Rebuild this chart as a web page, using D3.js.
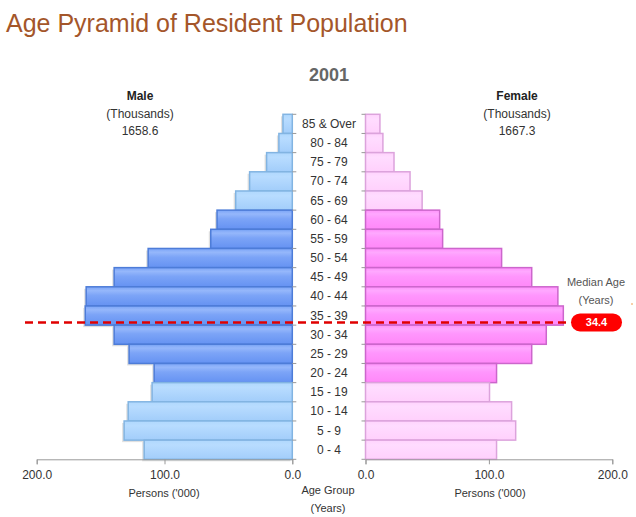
<!DOCTYPE html>
<html><head><meta charset="utf-8">
<script src="https://cdn.jsdelivr.net/npm/d3@7"></script>
<style>body{margin:0;background:#fff;font-family:"Liberation Sans",Arial,sans-serif;}</style>
</head><body><svg id="c" width="636" height="517"></svg>
<script>
const ageGroups = ["85 & Over","80 - 84","75 - 79","70 - 74","65 - 69","60 - 64","55 - 59","50 - 54","45 - 49","40 - 44","35 - 39","30 - 34","25 - 29","20 - 24","15 - 19","10 - 14","5 - 9","0 - 4"];
const maleValues   = [7.3,10.5,20.1,33.4,44.3,58.9,63.8,112.8,139.4,161.3,162.0,139.4,127.7,108.1,109.7,128.4,131.6,115.9];
const femaleValues = [11.7,14.1,23.1,36.1,45.9,60.1,62.5,110.3,134.7,155.9,160.3,146.5,134.7,106.2,100.5,118.4,121.7,106.2];
const workingAge = ["60 - 64","55 - 59","50 - 54","45 - 49","40 - 44","35 - 39","30 - 34","25 - 29","20 - 24"];
const xTicks = [200, 100, 0];
const year = "2001";
const maleTotal = "1658.6", femaleTotal = "1667.3";
const medianAge = 34.4;

const svg = d3.select("#c");
const plotTop = 114.3, plotBottom = 459.3;
const y = d3.scaleBand().domain(ageGroups).range([plotTop, plotBottom]).padding(0);
const xm = d3.scaleLinear().domain([0, 200]).range([292.3, 36.7]);
const xf = d3.scaleLinear().domain([0, 200]).range([365.5, 612.3]);
const yAge = d3.scaleLinear().domain([0, 90]).range([plotBottom - 5, plotTop - 5]);

const defs = svg.append("defs");
function grad(id, stops){
  const g = defs.append("linearGradient").attr("id", id).attr("x1",0).attr("y1",0).attr("x2",0).attr("y2",1);
  stops.forEach(s => g.append("stop").attr("offset", s[0]).attr("stop-color", s[1]));
}
grad("mDark", [[0,"#7ba4f7"],[0.2,"#95b7fb"],[0.45,"#7ca4f7"],[1,"#6592f2"]]);
grad("mLight", [[0,"#b0d8fd"],[0.25,"#b8dcff"],[1,"#a2cdfa"]]);
grad("fDark", [[0,"#ff90fb"],[0.2,"#ffa8ff"],[0.45,"#ff96fd"],[1,"#ff88f8"]]);
grad("fLight", [[0,"#ffd3fd"],[0.25,"#ffdcff"],[1,"#ffd0fc"]]);

// Title
svg.append("text").attr("x", 6).attr("y", 32).attr("font-size", 25).attr("fill", "#a4562a").text("Age Pyramid of Resident Population");
svg.append("text").attr("x", 329).attr("y", 81).attr("text-anchor","middle").attr("font-size", 18).attr("font-weight","bold").attr("fill","#666").text(year);

function header(x, name, total){
  const g = svg.append("g").attr("text-anchor","middle").attr("fill","#222").attr("font-size",12);
  g.append("text").attr("x",x).attr("y",100).attr("font-weight","bold").text(name);
  g.append("text").attr("x",x).attr("y",118).attr("fill","#333").text("(Thousands)");
  g.append("text").attr("x",x).attr("y",135).attr("fill","#333").text(total);
}
header(140, "Male", maleTotal);
header(517, "Female", femaleTotal);

const bh = y.bandwidth();
// male shadows
svg.append("g").selectAll("rect").data(ageGroups).join("rect")
  .attr("x", (d,i) => xm(maleValues[i]) - 2).attr("y", d => y(d) + 2)
  .attr("width", (d,i) => xm(0) - xm(maleValues[i])).attr("height", bh)
  .attr("fill", "#999").attr("opacity", 0.3);
// male bars
svg.append("g").selectAll("rect").data(ageGroups).join("rect")
  .attr("x", (d,i) => xm(maleValues[i])).attr("y", d => y(d))
  .attr("width", (d,i) => xm(0) - xm(maleValues[i])).attr("height", bh)
  .attr("fill", d => workingAge.includes(d) ? "url(#mDark)" : "url(#mLight)")
  .attr("stroke", d => workingAge.includes(d) ? "#4d7cd8" : "#82b4e2").attr("stroke-width", 1.5);
// female bars
svg.append("g").selectAll("rect").data(ageGroups).join("rect")
  .attr("x", xf(0)).attr("y", d => y(d))
  .attr("width", (d,i) => xf(femaleValues[i]) - xf(0)).attr("height", bh)
  .attr("fill", d => workingAge.includes(d) ? "url(#fDark)" : "url(#fLight)")
  .attr("stroke", d => workingAge.includes(d) ? "#cc66cc" : "#dca3dc").attr("stroke-width", 1.5);

// vertical axes with row ticks
const axCol = "#999";
const bounds = ageGroups.map(d => y(d)).concat([plotBottom]);
svg.append("g").selectAll("line").data(bounds).join("line")
  .attr("x1", xm(0)).attr("x2", xm(0) + 4).attr("y1", d => d).attr("y2", d => d).attr("stroke", axCol);
svg.append("g").selectAll("line").data(bounds).join("line")
  .attr("x1", xf(0) - 4).attr("x2", xf(0)).attr("y1", d => d).attr("y2", d => d).attr("stroke", axCol);

// age labels
svg.append("g").selectAll("text").data(ageGroups).join("text")
  .attr("x", 329).attr("y", d => y(d) + bh/2 + 4).attr("text-anchor","middle")
  .attr("font-size", 12).attr("fill","#333").text(d => d);

// bottom axes
function bottomAxis(scale){
  const g = svg.append("g").attr("transform", `translate(0,${plotBottom})`)
    .call(d3.axisBottom(scale).tickValues(xTicks).tickFormat(d3.format(".1f")).tickSizeOuter(0).tickSize(5).tickPadding(6));
  g.select(".domain").attr("stroke", axCol);
  g.selectAll(".tick line").attr("stroke", axCol);
  g.selectAll(".tick text").attr("font-size", 12).attr("fill","#333").attr("font-family","Liberation Sans, Arial, sans-serif");
  return g;
}
bottomAxis(xm);
bottomAxis(xf);

const lab = svg.append("g").attr("text-anchor","middle").attr("font-size",11).attr("fill","#333");
lab.append("text").attr("x",164).attr("y",497).text("Persons ('000)");
lab.append("text").attr("x",490).attr("y",497).text("Persons ('000)");
lab.append("text").attr("x",328).attr("y",494).text("Age Group");
lab.append("text").attr("x",328).attr("y",512).text("(Years)");

// median
const my = yAge(medianAge);
svg.append("line").attr("x1", 25).attr("x2", 571).attr("y1", my).attr("y2", my)
  .attr("stroke", "#e00000").attr("stroke-width", 2.5).attr("stroke-dasharray", "8,5");
svg.append("rect").attr("x", 571).attr("y", my - 9).attr("width", 51).attr("height", 18).attr("rx", 9)
  .attr("fill", "#ff0000");
svg.append("text").attr("x", 596.5).attr("y", my + 4).attr("text-anchor","middle").attr("font-size", 11)
  .attr("font-weight","bold").attr("fill","#fff").text(medianAge.toFixed(1));
const ml = svg.append("g").attr("text-anchor","middle").attr("font-size",11).attr("fill","#555");
ml.append("text").attr("x",596).attr("y",286).text("Median Age");
ml.append("text").attr("x",596).attr("y",304).text("(Years)");
svg.append("line").attr("x1",631).attr("x2",633).attr("y1",304).attr("y2",304).attr("stroke","#f0a050");
</script></body></html>
